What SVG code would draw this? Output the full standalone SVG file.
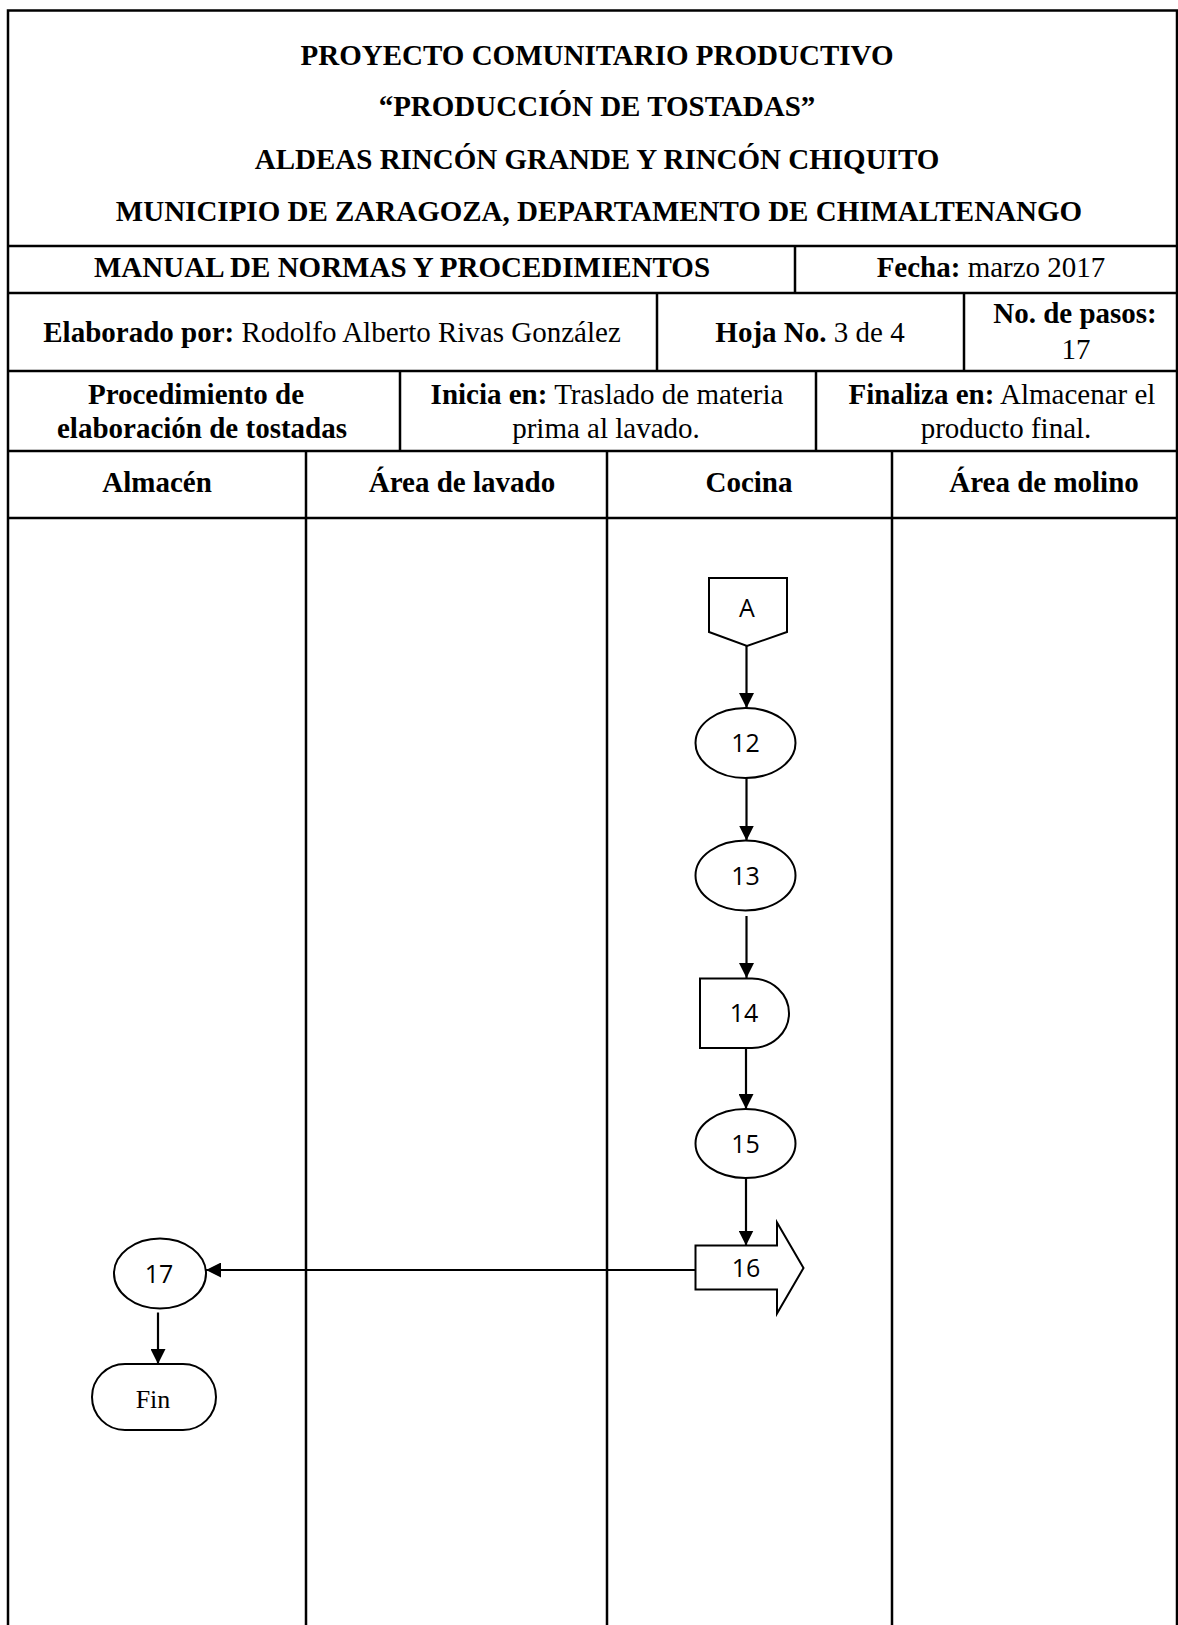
<svg xmlns="http://www.w3.org/2000/svg" width="1178" height="1625" viewBox="0 0 1178 1625">
<style>
.t{font-family:"Liberation Serif","Times New Roman",serif;font-size:29px;fill:#000;text-anchor:middle}
.b{font-weight:bold}
.grid{stroke:#000;stroke-width:2.5;fill:none}
.shape{stroke:#000;stroke-width:2;fill:#fff}
.lbl{font-family:"Open Sans","Liberation Sans",sans-serif;font-size:25px;fill:#000;text-anchor:middle}
.con{stroke:#000;stroke-width:2.2;fill:none}
</style>
<defs>
<marker id="ah" viewBox="0 0 10 10" refX="10" refY="5" markerWidth="15" markerHeight="15" markerUnits="userSpaceOnUse" orient="auto">
<path d="M0,0 L10,5 L0,10 Z" fill="#000"/>
</marker>
</defs>
<rect width="1178" height="1625" fill="#fff"/>
<g id="table">
<path class="grid" d="M8,1625 V10.5 H1180 M8,246 H1180 M8,293 H1180 M8,371 H1180 M8,451 H1180 M8,518 H1180 M1177,10.5 V1625 M795,246 V293 M657,293 V371 M964,293 V371 M400,371 V451 M816,371 V451 M306,451 V1625 M607,451 V1625 M892,451 V1625"/>
<text class="t b" x="597" y="65">PROYECTO COMUNITARIO PRODUCTIVO</text>
<text class="t b" x="597" y="116">“PRODUCCIÓN DE TOSTADAS”</text>
<text class="t b" x="597" y="169">ALDEAS RINCÓN GRANDE Y RINCÓN CHIQUITO</text>
<text class="t b" x="599" y="221">MUNICIPIO DE ZARAGOZA, DEPARTAMENTO DE CHIMALTENANGO</text>
<text class="t b" x="402" y="277">MANUAL DE NORMAS Y PROCEDIMIENTOS</text>
<text class="t" x="991" y="277"><tspan class="b">Fecha:</tspan> marzo 2017</text>
<text class="t" x="332" y="342"><tspan class="b">Elaborado por:</tspan> Rodolfo Alberto Rivas González</text>
<text class="t" x="810" y="342"><tspan class="b">Hoja No.</tspan> 3 de 4</text>
<text class="t b" x="1075" y="323">No. de pasos:</text>
<text class="t" x="1076" y="359">17</text>
<text class="t b" x="196" y="404">Procedimiento de</text>
<text class="t b" x="202" y="438">elaboración de tostadas</text>
<text class="t" x="607" y="404"><tspan class="b">Inicia en:</tspan> Traslado de materia</text>
<text class="t" x="606" y="438">prima al lavado.</text>
<text class="t" x="1002" y="404"><tspan class="b">Finaliza en:</tspan> Almacenar el</text>
<text class="t" x="1006" y="438">producto final.</text>
<text class="t b" x="157" y="492">Almacén</text>
<text class="t b" x="462" y="492">Área de lavado</text>
<text class="t b" x="749" y="492">Cocina</text>
<text class="t b" x="1044" y="492">Área de molino</text>
</g>
<g id="connectors">
<line class="con" x1="746.5" y1="646" x2="746.5" y2="708" marker-end="url(#ah)"/>
<line class="con" x1="746.5" y1="778" x2="746.5" y2="840.5" marker-end="url(#ah)"/>
<line class="con" x1="746.5" y1="916" x2="746.5" y2="978" marker-end="url(#ah)"/>
<line class="con" x1="746" y1="1048" x2="746" y2="1109" marker-end="url(#ah)"/>
<line class="con" x1="746" y1="1178" x2="746" y2="1245.5" marker-end="url(#ah)"/>
<line class="con" x1="695" y1="1270" x2="206" y2="1270" marker-end="url(#ah)"/>
<line class="con" x1="158" y1="1312.5" x2="158" y2="1364" marker-end="url(#ah)"/>
</g>
<g id="node-A">
<path class="shape" d="M709,578 H787 V632 L747,646 L709,632 Z"/>
<text class="lbl" x="747" y="617">A</text>
</g>
<g id="node-12">
<ellipse class="shape" cx="745.5" cy="743" rx="50" ry="35"/>
<text class="lbl" x="745.5" y="752">12</text>
</g>
<g id="node-13">
<ellipse class="shape" cx="745.5" cy="875.5" rx="50" ry="35"/>
<text class="lbl" x="745.5" y="884.5">13</text>
</g>
<g id="node-14">
<path class="shape" d="M700,978.5 H752 A37,34.75 0 0 1 752,1048 H700 Z"/>
<text class="lbl" x="744" y="1022">14</text>
</g>
<g id="node-15">
<ellipse class="shape" cx="745.5" cy="1143.5" rx="50" ry="34.5"/>
<text class="lbl" x="745.5" y="1152.5">15</text>
</g>
<g id="node-16">
<path class="shape" d="M695.5,1245.5 H777 V1222.5 L803.5,1268 L777,1313.5 V1289.5 H695.5 Z"/>
<text class="lbl" x="746" y="1277">16</text>
</g>
<g id="node-17">
<ellipse class="shape" cx="160" cy="1273.5" rx="46" ry="35"/>
<text class="lbl" x="159" y="1282.5">17</text>
</g>
<g id="node-fin">
<rect class="shape" x="92" y="1364" width="124" height="66" rx="33" ry="33"/>
<text class="t" x="153" y="1408" style="font-size:26px">Fin</text>
</g>
</svg>
